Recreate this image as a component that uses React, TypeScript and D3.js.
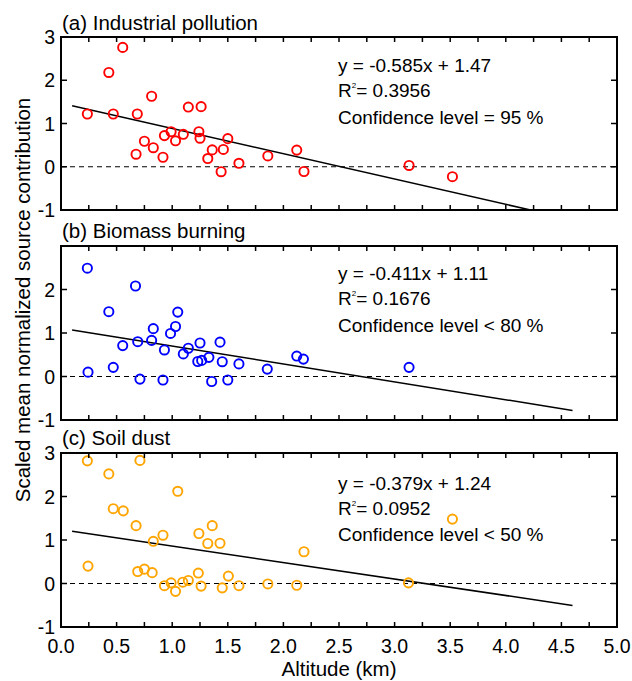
import React from "react";
import * as d3 from "d3";

// ---------- data ----------
const xIndustrial = [0.237, 0.43, 0.555, 0.47, 0.686, 0.815, 0.675, 0.75, 0.83, 0.917, 0.93, 0.99, 1.03, 1.10, 1.145, 1.26, 1.24, 1.25, 1.36, 1.32, 1.46, 1.44, 1.50, 1.60, 1.86, 2.12, 2.185, 3.13, 3.52];
const yIndustrial = [1.22, 2.18, 2.76, 1.22, 1.22, 1.63, 0.29, 0.59, 0.44, 0.22, 0.72, 0.81, 0.60, 0.75, 1.38, 1.39, 0.81, 0.66, 0.39, 0.19, 0.40, -0.115, 0.65, 0.08, 0.25, 0.385, -0.11, 0.03, -0.23];

const xBiomass = [0.237, 0.243, 0.43, 0.47, 0.555, 0.67, 0.69, 0.71, 0.815, 0.83, 0.93, 0.917, 0.985, 1.03, 1.05, 1.10, 1.145, 1.25, 1.23, 1.265, 1.33, 1.355, 1.43, 1.45, 1.50, 1.60, 1.855, 2.12, 2.18, 3.13];
const yBiomass = [2.49, 0.10, 1.49, 0.21, 0.71, 2.08, 0.80, -0.06, 0.83, 1.10, 0.61, -0.08, 0.99, 1.15, 1.48, 0.52, 0.65, 0.77, 0.345, 0.37, 0.44, -0.115, 0.79, 0.34, -0.08, 0.29, 0.17, 0.47, 0.40, 0.21];

const xSoil = [0.237, 0.243, 0.43, 0.47, 0.56, 0.675, 0.71, 0.69, 0.75, 0.82, 0.83, 0.917, 0.93, 0.99, 1.03, 1.05, 1.095, 1.145, 1.235, 1.24, 1.26, 1.32, 1.36, 1.43, 1.45, 1.505, 1.60, 1.86, 2.12, 2.185, 3.125, 3.52];
const ySoil = [2.82, 0.40, 2.52, 1.72, 1.67, 1.33, 2.83, 0.275, 0.33, 0.25, 0.97, 1.11, -0.05, 0.015, -0.18, 2.12, 0.03, 0.07, 0.24, 1.15, -0.06, 0.92, 1.33, 0.925, -0.10, 0.17, -0.05, -0.01, -0.04, 0.73, 0.015, 1.48];

const panelTitles = ["(a) Industrial pollution", "(b) Biomass burning", "(c) Soil dust"];
const slopes = [-0.585, -0.411, -0.379];
const intercepts = [1.47, 1.11, 1.24];
const fitEquations = ["y = -0.585x + 1.47", "y = -0.411x + 1.11", "y = -0.379x + 1.24"];
const rSquared = ["0.3956", "0.1676", "0.0952"];
const confidence = ["Confidence level = 95 %", "Confidence level < 80 %", "Confidence level < 50 %"];
const fitRange = [0.1, 4.6];
const xTickLabels = ["0.0", "0.5", "1.0", "1.5", "2.0", "2.5", "3.0", "3.5", "4.0", "4.5", "5.0"];
const yTicksFull = [3, 2, 1, 0, -1];
const yTicksB = [2, 1, 0, -1];

const colors = ["#ff0000", "#0000ff", "#ffa500"];
const FONT = "'Liberation Sans', Arial, Helvetica, sans-serif";

export default function App() {
  const W = 632, H = 681;
  const x = d3.scaleLinear().domain([0, 5]).range([61, 617]);
  const panels = [
    { top: 37, bottom: 210, xs: xIndustrial, ys: yIndustrial, ticks: yTicksFull, titleY: 30, textOff: [35, 60, 87] },
    { top: 246, bottom: 420, xs: xBiomass, ys: yBiomass, ticks: yTicksB, titleY: 238, textOff: [34, 59, 86] },
    { top: 453, bottom: 627, xs: xSoil, ys: ySoil, ticks: yTicksFull, titleY: 445, textOff: [37, 62, 88] },
  ];
  const minorTicks = d3.range(0, 5.001, 0.25);
  const tickLen = 5;

  return (
    <div style={{ position: "fixed", left: 0, top: 0 }}>
      <svg width={W} height={H} style={{ display: "block", background: "#fff" }} fontFamily={FONT}>
        {panels.map((p, i) => {
          const y = d3.scaleLinear().domain([-1, 3]).range([p.bottom, p.top]);
          const xL = x.range()[0], xR = x.range()[1];
          const f = (v: number) => slopes[i] * v + intercepts[i];
          let x1 = fitRange[1];
          if (f(x1) < -1) x1 = (-1 - intercepts[i]) / slopes[i];
          const line = d3.line<number>().x((v) => x(v)).y((v) => y(f(v)));
          const clipId = `clip${i}`;
          return (
            <g key={i}>
              <defs>
                <clipPath id={clipId}>
                  <rect x={xL} y={p.top} width={xR - xL} height={p.bottom - p.top} />
                </clipPath>
              </defs>
              <text x={62} y={p.titleY} fontSize={20.5} fill="#000">{panelTitles[i]}</text>
              <line x1={xL} x2={xR} y1={y(0)} y2={y(0)} stroke="#000" strokeWidth={1} strokeDasharray="5,4" />
              <path d={line([fitRange[0], x1]) || ""} stroke="#000" strokeWidth={1.5} fill="none" clipPath={`url(#${clipId})`} />
              {p.xs.map((xv, j) => (
                <circle key={j} cx={x(xv)} cy={y(p.ys[j])} r={4.6} fill="none" stroke={colors[i]} strokeWidth={1.9} />
              ))}
              {minorTicks.map((t, j) => (
                <g key={j}>
                  <line x1={x(t)} x2={x(t)} y1={p.bottom} y2={p.bottom - tickLen} stroke="#000" strokeWidth={1.5} />
                  <line x1={x(t)} x2={x(t)} y1={p.top} y2={p.top + tickLen} stroke="#000" strokeWidth={1.5} />
                </g>
              ))}
              {[-1, 0, 1, 2, 3].map((t) => (
                <g key={t}>
                  <line x1={xL} x2={xL + tickLen + 1} y1={y(t)} y2={y(t)} stroke="#000" strokeWidth={1.5} />
                  <line x1={xR} x2={xR - tickLen - 1} y1={y(t)} y2={y(t)} stroke="#000" strokeWidth={1.5} />
                </g>
              ))}
              {p.ticks.map((t) => (
                <text key={t} x={55} y={y(t)} dy="0.36em" textAnchor="end" fontSize={19.5} fill="#000">{String(t)}</text>
              ))}
              <rect x={xL} y={p.top} width={xR - xL} height={p.bottom - p.top} fill="none" stroke="#000" strokeWidth={2} />
              <text x={338} y={p.top + p.textOff[0]} fontSize={19} fill="#000">{fitEquations[i]}</text>
              <text x={338} y={p.top + p.textOff[1]} fontSize={19} fill="#000">
                R<tspan fontSize={8} dy={-9}>2</tspan><tspan dy={9}>= {rSquared[i]}</tspan>
              </text>
              <text x={338} y={p.top + p.textOff[2]} fontSize={19} fill="#000">{confidence[i]}</text>
            </g>
          );
        })}
        {xTickLabels.map((l, j) => (
          <text key={j} x={x(j * 0.5)} y={653} textAnchor="middle" fontSize={19.5} fill="#000">{l}</text>
        ))}
        <text x={339} y={676} textAnchor="middle" fontSize={20.5} fill="#000">Altitude (km)</text>
        <text transform="translate(30,300) rotate(-90)" textAnchor="middle" fontSize={20.5} fill="#000">
          Scaled mean normalized source contribution
        </text>
      </svg>
    </div>
  );
}
